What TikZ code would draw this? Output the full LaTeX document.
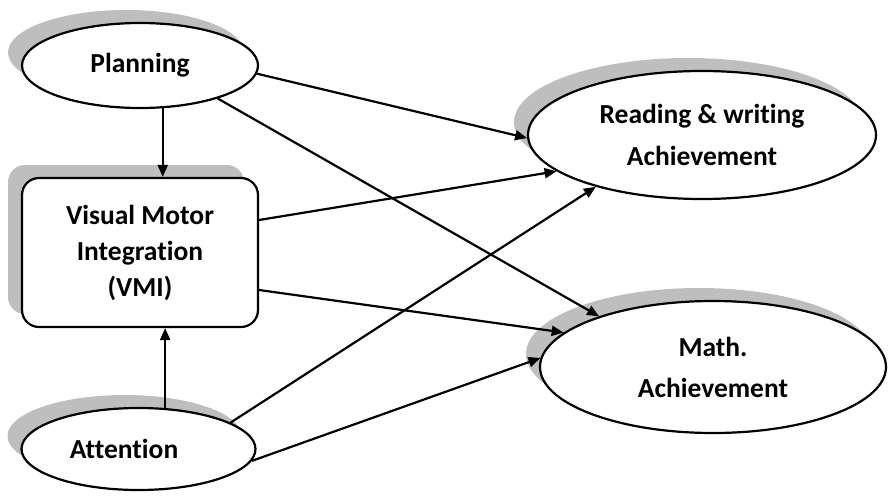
\documentclass[tikz,border=0pt]{standalone}
\usepackage{fontspec}
\setmainfont{Carlito}[Ligatures=NoCommon]
\usetikzlibrary{shapes.geometric,shadows,arrows.meta}
\definecolor{shadowgray}{HTML}{BEBEBE}
\begin{document}
\begin{tikzpicture}[x=1pt,y=-1pt,
  sh/.style={general shadow={shadow xshift=-14pt, shadow yshift=13pt, fill=shadowgray}},
  ell/.style={ellipse, draw, line width=2.2pt, fill=white, inner sep=0pt, sh, align=center},
  box/.style={rectangle, rounded corners=17pt, draw, line width=2.2pt, fill=white, inner sep=0pt, sh, align=center},
  lbl/.style={font=\fontsize{27.5}{36}\selectfont\bfseries},
  conn/.style={line width=2.2pt, -{Triangle[length=12pt,width=10pt]}}
]
\useasboundingbox (0,0) rectangle (888,495);
\node[ell, lbl, minimum width=236pt, minimum height=85pt] (planning) at (140,65.5) {Planning};
\node[box, lbl, minimum width=236pt, minimum height=149pt] (vmi) at (140,252.5) {Visual Motor\\Integration\\(VMI)};
\node[ell, lbl, minimum width=234pt, minimum height=82pt] (attention) at (138.5,449) {Attention\hspace*{29pt}};
\node[ell, font=\fontsize{27.5}{42}\selectfont\bfseries, minimum width=348pt, minimum height=128pt] (reading) at (702,135) {Reading \& writing\\Achievement};
\node[ell, font=\fontsize{27.5}{41}\selectfont\bfseries, minimum width=346pt, minimum height=132pt] (math) at (713,367) {Math.\\Achievement};
\draw[conn] (planning.298.4) -- (planning.298.4 |- vmi.north);
\draw[conn] (attention.57.9) -- (attention.57.9 |- vmi.south);
\draw[conn] (planning.356.8) -- (reading.181.7);
\draw[conn] (planning.337.4) -- (math.156.7);
\draw[conn] ([yshift=32.5pt]vmi.east) -- (reading.194);
\draw[conn] ([yshift=-37.5pt]vmi.east) -- (math.167.5);
\draw[conn] (attention.16.4) -- (reading.206.8);
\draw[conn] (attention.354.5) -- (math.177.6);
\end{tikzpicture}
\end{document}
